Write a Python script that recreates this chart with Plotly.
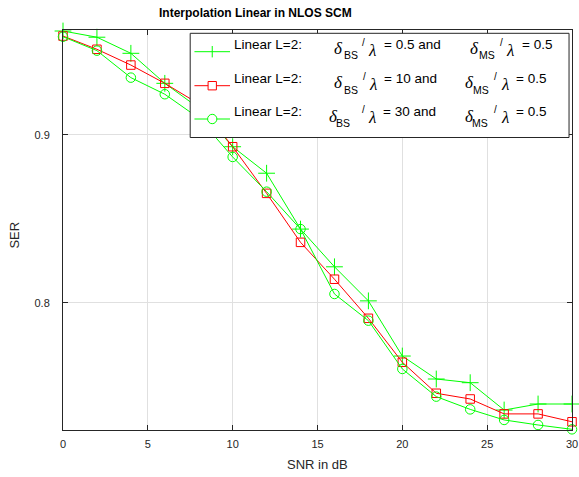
import plotly.graph_objects as go

# ---------------- data ----------------
snr_db = [0, 2, 4, 6, 8, 10, 12, 14, 16, 18, 20, 22, 24, 26, 28, 30]
ser_bs_05 = [0.9620, 0.9583, 0.9487, 0.9308, 0.9161, 0.8930, 0.8772, 0.8439,
             0.8214, 0.8011, 0.7682, 0.7545, 0.7523, 0.7360, 0.7396, 0.7396]
ser_bs_10 = [0.9590, 0.9511, 0.9417, 0.9308, 0.9186, 0.8930, 0.8652, 0.8360,
             0.8140, 0.7907, 0.7645, 0.7460, 0.7426, 0.7337, 0.7337, 0.7290]
ser_bs_30 = [0.9586, 0.9503, 0.9342, 0.9243, 0.9101, 0.8869, 0.8662, 0.8439,
             0.8052, 0.7893, 0.7605, 0.7440, 0.7364, 0.7301, 0.7271, 0.7245]
bs_ratios = ["0.5", "10", "30"]
ms_ratios = ["0.5", "0.5", "0.5"]
x_ticks = [0, 5, 10, 15, 20, 25, 30]
y_ticks = [0.8, 0.9]
y_range = [0.7241, 0.9626]

GREEN = "#00ff00"
RED = "#ff0000"
AX = "#262626"
SANS = "Liberation Sans, Arial, sans-serif"
SERIF = "Liberation Serif, Times New Roman, serif"

W, H = 579, 477
L, R, T, B = 63, 578, 30, 430


def px(x):
    return (x - L) / (R - L)


def py(y):
    return (B - y) / (B - T)


fig = go.Figure()
series = [
    (ser_bs_05, GREEN, "cross-thin", 12),
    (ser_bs_10, RED, "square-open", 8.5),
    (ser_bs_30, GREEN, "circle-open", 9.5),
]
for vals, col, sym, sz in series:
    fig.add_trace(go.Scatter(
        x=snr_db, y=vals, mode="lines+markers",
        line=dict(color=col, width=1),
        marker=dict(symbol=sym, size=sz, color=col, line=dict(color=col, width=1)),
        showlegend=False, cliponaxis=False,
    ))

shapes = []
annotations = []

# legend box
shapes.append(dict(type="rect", xref="paper", yref="paper",
                   x0=px(191.7), x1=px(575), y0=py(137.5), y1=py(33.3),
                   line=dict(color=AX, width=1), fillcolor="white", layer="above"))

row_dy = [0, 34, 67.3]
sym_kind = ["plus", "square", "circle"]
cols = [GREEN, RED, GREEN]
# per-row x positions of the math text pieces
pos = [
    dict(d1=336.7, s1=347.7, sl1=365.7, l1=371.7, e1=387.3, d2=475, s2=484, sl2=505, l2=511.7, e2=527.3),
    dict(d1=336.7, s1=347.7, sl1=366.7, l1=372.7, e1=387.3, d2=469.3, s2=478, sl2=499.3, l2=506, e2=521.7),
    dict(d1=331.7, s1=339.3, sl1=366.0, l1=371.7, e1=386.7, d2=469.3, s2=477.3, sl2=499.3, l2=506, e2=521.7),
]


def ann(text, x, y, size, family=SANS, color="black", anchor="left"):
    annotations.append(dict(text=text, x=px(x), y=py(y), xref="paper", yref="paper",
                            xanchor=anchor, yanchor="middle", showarrow=False,
                            font=dict(size=size, family=family, color=color),
                            borderpad=0))


for i in range(3):
    dy = row_dy[i]
    ys = 51.7 + dy
    col = cols[i]
    shapes.append(dict(type="line", xref="paper", yref="paper", x0=px(196), x1=px(232),
                       y0=py(ys), y1=py(ys), line=dict(color=col, width=1), layer="above"))
    cx = 214
    if sym_kind[i] == "plus":
        shapes.append(dict(type="line", xref="paper", yref="paper", x0=px(cx), x1=px(cx),
                           y0=py(ys - 5.7), y1=py(ys + 5.7), line=dict(color=col, width=1), layer="above"))
    elif sym_kind[i] == "square":
        shapes.append(dict(type="rect", xref="paper", yref="paper", x0=px(cx - 4.2), x1=px(cx + 4.2),
                           y0=py(ys + 4.2), y1=py(ys - 4.2), line=dict(color=col, width=1),
                           fillcolor="white", layer="above"))
    else:
        shapes.append(dict(type="circle", xref="paper", yref="paper", x0=px(cx - 4.7), x1=px(cx + 4.7),
                           y0=py(ys + 4.7), y1=py(ys - 4.7), line=dict(color=col, width=1),
                           fillcolor="white", layer="above"))
    p = pos[i]
    yt = 44.5 + dy
    ann("Linear L=2:", 234.5, yt, 13.5)
    # BS part
    ann("<i>δ</i>", p["d1"] - 1, yt + 4.5, 17, SERIF)
    ann("BS", p["s1"] - 1, yt + 11, 10.5)
    ann("/", p["sl1"] - 1, yt - 2.5, 10)
    ann("<i>λ</i>", p["l1"] - 1, yt + 5.5, 17, SERIF)
    ann("= " + bs_ratios[i] + " and", p["e1"] - 1, yt, 13.5)
    # MS part
    ann("<i>δ</i>", p["d2"] - 1, yt + 4.5, 17, SERIF)
    ann("MS", p["s2"] - 1, yt + 11, 10.5)
    ann("/", p["sl2"] - 1, yt - 2.5, 10)
    ann("<i>λ</i>", p["l2"] - 1, yt + 5.5, 17, SERIF)
    ann("= " + ms_ratios[i], p["e2"] - 1, yt, 13.5)

# title and axis titles
ann("<b>Interpolation Linear in NLOS SCM</b>", 257.5, 13, 12, anchor="center")
ann("SNR in dB", 320.5, 465, 13, color=AX, anchor="center")
annotations.append(dict(text="SER", x=px(14), y=py(235), xref="paper", yref="paper",
                        xanchor="center", yanchor="middle", showarrow=False, textangle=-90,
                        font=dict(size=13, family=SANS, color=AX)))

fig.update_layout(
    width=W, height=H,
    margin=dict(l=L, r=W - R, t=T, b=H - B),
    paper_bgcolor="white", plot_bgcolor="white",
    shapes=shapes, annotations=annotations,
    showlegend=False,
    font=dict(family=SANS, color=AX),
)
fig.update_xaxes(
    range=[0, 30], tickvals=x_ticks, ticktext=[str(v) for v in x_ticks],
    showgrid=True, gridcolor="#e0e0e0", gridwidth=1, zeroline=False,
    showline=True, linecolor=AX, linewidth=1, mirror="ticks",
    ticks="inside", ticklen=5, tickcolor=AX, tickwidth=1,
    tickfont=dict(size=11, family=SANS, color=AX), ticklabelstandoff=4,
    ticklabeloverflow="allow",
)
fig.update_yaxes(
    range=y_range, tickvals=y_ticks, ticktext=["0.8", "0.9"],
    showgrid=True, gridcolor="#e0e0e0", gridwidth=1, zeroline=False,
    showline=True, linecolor=AX, linewidth=1, mirror="ticks",
    ticks="inside", ticklen=5, tickcolor=AX, tickwidth=1,
    tickfont=dict(size=11, family=SANS, color=AX), ticklabelstandoff=10,
    ticklabeloverflow="allow",
)

fig.write_html("out.html")
